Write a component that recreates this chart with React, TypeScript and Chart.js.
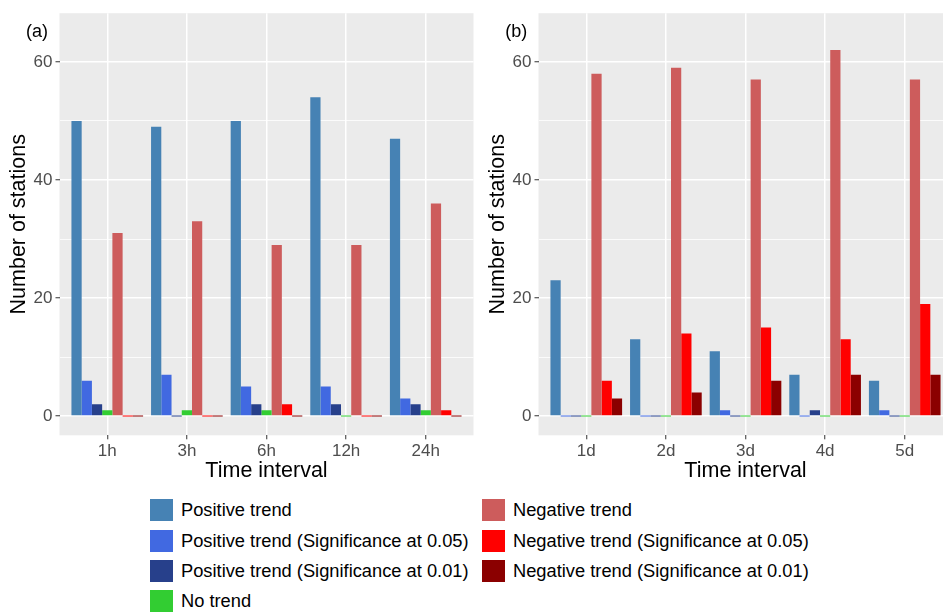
import React, { useEffect, useRef } from "react";
import { Chart, registerables } from "chart.js";

Chart.register(...registerables);

const FONT = "'Liberation Sans', Arial, Helvetica, sans-serif";

const seriesNames = [
  "Positive trend",
  "Positive trend (Significance at 0.05)",
  "Positive trend (Significance at 0.01)",
  "No trend",
  "Negative trend",
  "Negative trend (Significance at 0.05)",
  "Negative trend (Significance at 0.01)",
];
const seriesColors = ["#4682B4", "#4169E1", "#27408B", "#32CD32", "#CD5C5C", "#FF0000", "#8B0000"];

const hourLabels = ["1h", "3h", "6h", "12h", "24h"];
const dayLabels = ["1d", "2d", "3d", "4d", "5d"];

const hourPositive = [50, 49, 50, 54, 47];
const hourPositive05 = [6, 7, 5, 5, 3];
const hourPositive01 = [2, 0, 2, 2, 2];
const hourNoTrend = [1, 1, 1, 0, 1];
const hourNegative = [31, 33, 29, 29, 36];
const hourNegative05 = [0, 0, 2, 0, 1];
const hourNegative01 = [0, 0, 0, 0, 0];

const dayPositive = [23, 13, 11, 7, 6];
const dayPositive05 = [0, 0, 1, 0, 1];
const dayPositive01 = [0, 0, 0, 1, 0];
const dayNoTrend = [0, 0, 0, 0, 0];
const dayNegative = [58, 59, 57, 62, 57];
const dayNegative05 = [6, 14, 15, 13, 19];
const dayNegative01 = [3, 4, 6, 7, 7];

const yTicks = [0, 10, 20, 30, 40, 50, 60];
const yMajorStep = 20;

const hourSeries = [hourPositive, hourPositive05, hourPositive01, hourNoTrend, hourNegative, hourNegative05, hourNegative01];
const daySeries = [dayPositive, dayPositive05, dayPositive01, dayNoTrend, dayNegative, dayNegative05, dayNegative01];

const bgPlugin = {
  id: "panelBg",
  beforeDraw(chart: any) {
    const { ctx, chartArea } = chart;
    ctx.save();
    ctx.fillStyle = "#EBEBEB";
    ctx.fillRect(chartArea.left, chartArea.top, chartArea.right - chartArea.left, chartArea.bottom - chartArea.top);
    ctx.restore();
  },
};

function Panel({ labels, series, left, tag }: { labels: string[]; series: number[][]; left: number; tag: string }) {
  const ref = useRef<HTMLCanvasElement | null>(null);
  useEffect(() => {
    if (!ref.current) return;
    const chart = new Chart(ref.current, {
      type: "bar",
      data: {
        datasets: seriesNames.map((name, i) => ({
          label: name,
          data: series[i].map((v, j) => ({ x: j + 1, y: v })),
          backgroundColor: seriesColors[i],
          borderWidth: 0,
          minBarLength: 1,
          categoryPercentage: 0.9,
          barPercentage: 1.0,
        })),
      },
      options: {
        responsive: false,
        animation: false,
        devicePixelRatio: 1,
        layout: { padding: { top: 11.6, right: 6.5, left: 0, bottom: 0 } },
        plugins: { legend: { display: false }, tooltip: { enabled: false } },
        scales: {
          x: {
            type: "linear",
            min: 0.4,
            max: 5.6,
            offset: false,
            afterBuildTicks: (s: any) => {
              s.ticks = labels.map((_, i) => ({ value: i + 1 }));
            },
            afterFit: (s: any) => {
              s.height = 54.7;
            },
            ticks: {
              autoSkip: false,
              maxRotation: 0,
              color: "#4D4D4D",
              font: { family: FONT, size: 17 },
              padding: 2,
              callback: (v: any) => labels[Math.round(Number(v)) - 1] ?? "",
            },
            grid: {
              offset: false,
              color: "#FFFFFF",
              lineWidth: 1.5,
              tickColor: "#333333",
              tickLength: 4,
              tickWidth: 1,
            },
            border: { display: false },
            title: {
              display: true,
              text: "Time interval",
              color: "#000000",
              font: { family: FONT, size: 21.5 },
              padding: { top: 0, bottom: 6.3 },
            },
          },
          y: {
            type: "linear",
            min: -3.25,
            max: 68.25,
            afterBuildTicks: (s: any) => {
              s.ticks = yTicks.map((v) => ({ value: v }));
            },
            afterFit: (s: any) => {
              s.width = 59.5;
            },
            ticks: {
              autoSkip: false,
              color: "#4D4D4D",
              font: { family: FONT, size: 17 },
              padding: 3,
              callback: (v: any) => (Number(v) % yMajorStep === 0 ? String(v) : ""),
            },
            grid: {
              color: "#FFFFFF",
              lineWidth: (c: any) => (c.tick && c.tick.value % yMajorStep === 0 ? 1.5 : 0.8),
              tickColor: (c: any) => (c.tick && c.tick.value % yMajorStep === 0 ? "#333333" : "rgba(0,0,0,0)"),
              tickLength: 4,
              tickWidth: 1,
            },
            border: { display: false },
            title: {
              display: true,
              text: "Number of stations",
              color: "#000000",
              font: { family: FONT, size: 21.5 },
              padding: { top: 5.8, bottom: 0 },
            },
          },
        },
      },
      plugins: [bgPlugin],
    } as any);
    return () => chart.destroy();
  }, []);
  return (
    <>
      <canvas
        ref={ref}
        width={480}
        height={490}
        style={{ position: "absolute", left, top: 0, width: 480, height: 490, display: "block" }}
      />
      <div
        style={{
          position: "absolute",
          left: left + 26,
          top: 20,
          fontFamily: FONT,
          fontSize: 18,
          lineHeight: "22px",
          color: "#000",
        }}
      >
        {tag}
      </div>
    </>
  );
}

const legendLeft = [0, 1, 2, 3];
const legendRight = [4, 5, 6];

function LegendItem({ idx, x, y }: { idx: number; x: number; y: number }) {
  return (
    <div style={{ position: "absolute", left: x, top: y - 15, height: 30, display: "flex", alignItems: "center" }}>
      <div style={{ width: 23, height: 22, background: seriesColors[idx], marginRight: 8 }} />
      <span style={{ fontFamily: FONT, fontSize: 18.3, color: "#000", whiteSpace: "nowrap" }}>{seriesNames[idx]}</span>
    </div>
  );
}

export default function App() {
  const rowY = [510, 540.5, 571, 601];
  return (
    <div
      style={{
        position: "fixed",
        left: 0,
        top: 0,
        width: 943,
        height: 613,
        overflow: "hidden",
        background: "#FFFFFF",
      }}
    >
      <Panel labels={hourLabels} series={hourSeries} left={0} tag="(a)" />
      <Panel labels={dayLabels} series={daySeries} left={479.3} tag="(b)" />
      {legendLeft.map((idx, r) => (
        <LegendItem key={idx} idx={idx} x={150} y={rowY[r]} />
      ))}
      {legendRight.map((idx, r) => (
        <LegendItem key={idx} idx={idx} x={482} y={rowY[r]} />
      ))}
    </div>
  );
}
